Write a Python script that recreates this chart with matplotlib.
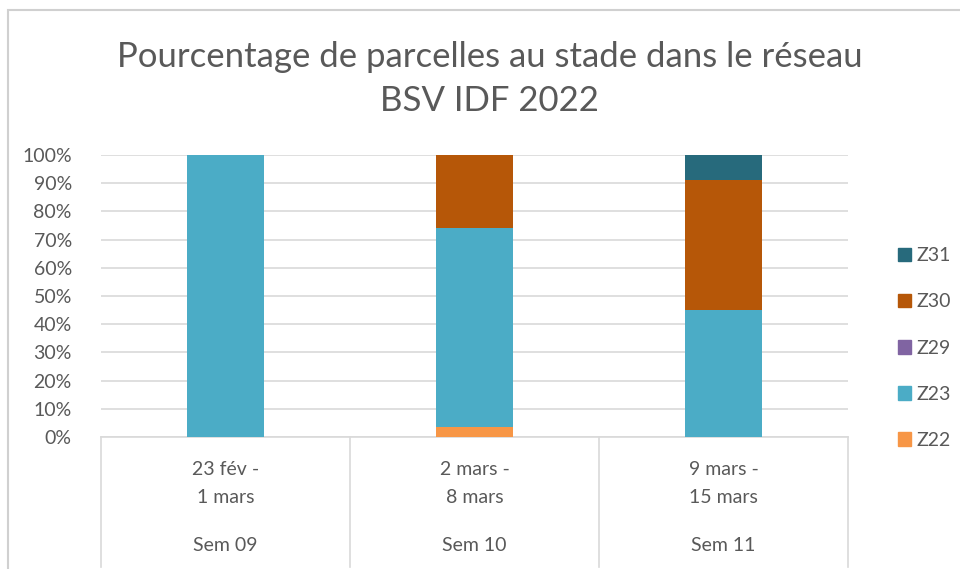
import matplotlib
matplotlib.use("Agg")
import matplotlib.pyplot as plt
import matplotlib.transforms as mtransforms
from matplotlib.patches import Rectangle, Patch
import numpy as np

plt.rcParams['font.family'] = ['Lato', 'DejaVu Sans']

# data (percent of plots per stage)
dates = ["23 fév -\n1 mars", "2 mars -\n8 mars", "9 mars -\n15 mars"]
weeks = ["Sem 09", "Sem 10", "Sem 11"]
stages = ["Z22", "Z23", "Z29", "Z30", "Z31"]
z22 = [0, 3.7, 0]
z23 = [100, 70.4, 45]
z29 = [0, 0, 0]
z30 = [0, 25.9, 46]
z31 = [0, 0, 9]
colors = ["#F79646", "#4BACC6", "#8064A2", "#B65708", "#276A7C"]

grey = "#595959"

fig = plt.figure(figsize=(9.6, 5.69), dpi=100)
ax = fig.add_axes([101/960, 1-437/569, (848-101)/960, (437-155)/569])

x = np.arange(len(dates))
bottom = np.zeros(len(dates))
for vals, col in zip([z22, z23, z29, z30, z31], colors):
    ax.bar(x, vals, bottom=bottom, width=0.31, color=col, zorder=3)
    bottom += np.array(vals)

ax.set_xlim(-0.5, 2.5)
ax.set_ylim(0, 100)
ax.set_yticks(np.arange(0, 101, 10))
ax.set_yticklabels([f"{v}%" for v in range(0, 101, 10)], color=grey, fontsize=14)
ax.yaxis.grid(True, color="#d9d9d9", linewidth=1.2, zorder=0)
ax.tick_params(axis='y', length=0, pad=21)
ax.set_xticks([])
for s in ["top", "right", "left"]:
    ax.spines[s].set_visible(False)
ax.spines["bottom"].set_color("#d9d9d9")
ax.spines["bottom"].set_linewidth(1.2)

# category separators and two-level labels below the axis
trans = mtransforms.blended_transform_factory(ax.transData, ax.transAxes)
for b in [-0.5, 0.5, 1.5, 2.5]:
    ax.plot([b, b], [0, -0.46], transform=trans, color="#d9d9d9",
            linewidth=1.2, clip_on=False)
for i in x:
    ax.text(i, -0.165, dates[i], transform=trans, ha="center", va="center",
            fontsize=14, color=grey, linespacing=1.85)
    ax.text(i, -0.385, weeks[i], transform=trans, ha="center", va="center",
            fontsize=14, color=grey)

fig.text(0.51, 1 - 79/569, "Pourcentage de parcelles au stade dans le réseau\nBSV IDF 2022",
         ha="center", va="center", fontsize=25, color=grey, linespacing=1.45)

handles = [Patch(color=c, label=s) for s, c in zip(stages, colors)][::-1]
fig.legend(handles=handles, loc="center left", bbox_to_anchor=(880/960, 1-348/569),
           frameon=False, fontsize=14, labelcolor=grey, handlelength=0.7,
           handleheight=0.7, handletextpad=0.3, labelspacing=1.5)

fig.patches.append(Rectangle((8/960, -0.1), 1.1, 1.1 - 10/569, transform=fig.transFigure,
                             fill=False, edgecolor="#d0d0d0", linewidth=1.5))

fig.savefig("out.png", dpi=100)
